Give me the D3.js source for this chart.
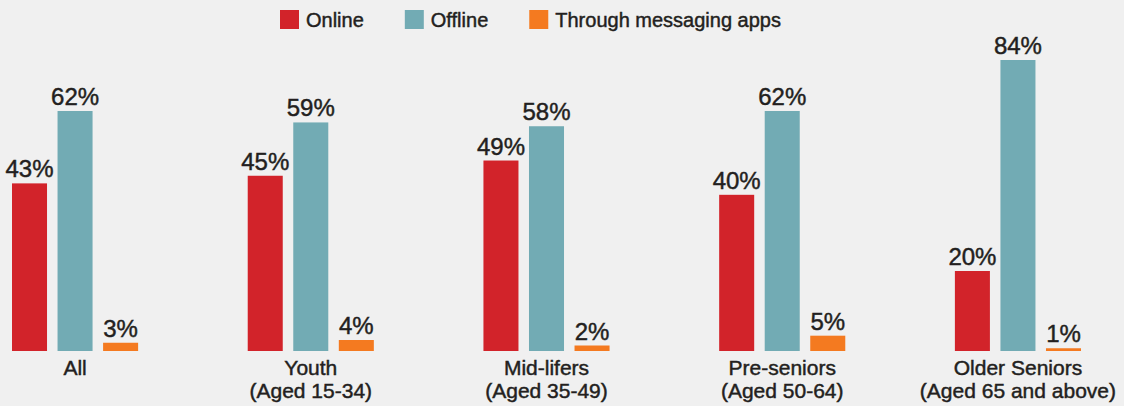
<!DOCTYPE html>
<html>
<head>
<meta charset="utf-8">
<script src="https://cdn.jsdelivr.net/npm/d3@7"></script>
<style>
  html, body { margin: 0; padding: 0; background: #f0f0f0; }
  svg { display: block; font-family: "Liberation Sans", Arial, sans-serif; }
  svg text { stroke: #231f20; stroke-width: 0.45px; }
</style>
</head>
<body>
<div id="wrapper"></div>
<script>
// Data
const categories = ["All", "Youth", "Mid-lifers", "Pre-seniors", "Older Seniors"];
const subLabels = ["", "(Aged 15-34)", "(Aged 35-49)", "(Aged 50-64)", "(Aged 65 and above)"];
const seriesNames = ["Online", "Offline", "Through messaging apps"];
const online = [43, 45, 49, 40, 20];
const offline = [62, 59, 58, 62, 84];
const messaging = [3, 4, 2, 5, 1];

const colors = ["#d2232a", "#72abb4", "#f47a20"];
const textColor = "#231f20";

function drawChart()
{
  const dimensions = {
    width: 1124,
    height: 406,
    baseline: 351
  };

  const svg = d3.select("#wrapper")
    .append("svg")
      .attr("width", dimensions.width)
      .attr("height", dimensions.height);

  svg.append("rect")
    .attr("width", dimensions.width)
    .attr("height", dimensions.height)
    .attr("fill", "#f0f0f0");

  // Scales
  const x0 = d3.scaleBand()
    .domain(categories)
    .range([12, 1081])
    .paddingInner(0.465)
    .paddingOuter(0);

  const x1 = d3.scaleBand()
    .domain(seriesNames)
    .range([0, x0.bandwidth()])
    .paddingInner(0.231)
    .paddingOuter(0);

  // the original's bars are not drawn on a strictly linear axis
  const yScale = d3.scaleLinear()
    .domain([0, 4, 20, 62, 84])
    .range([dimensions.baseline, 340, 271, 111, 60]);

  const series = [online, offline, messaging];

  const groups = svg.append("g")
    .selectAll("g")
    .data(categories)
    .join("g")
      .attr("transform", d => `translate(${x0(d)},0)`);

  groups.each(function(cat, i) {
    const g = d3.select(this);
    seriesNames.forEach((name, s) => {
      const v = series[s][i];
      g.append("rect")
        .attr("x", x1(name))
        .attr("y", yScale(v))
        .attr("width", x1.bandwidth())
        .attr("height", dimensions.baseline - yScale(v))
        .attr("fill", colors[s]);

      g.append("text")
        .attr("x", x1(name) + x1.bandwidth() / 2)
        .attr("y", yScale(v) - 6)
        .attr("text-anchor", "middle")
        .attr("fill", textColor)
        .style("font-size", "24px")
        .text(v + "%");
    });

    const cx = x1(seriesNames[1]) + x1.bandwidth() / 2;
    g.append("text")
      .attr("x", cx)
      .attr("y", 375)
      .attr("text-anchor", "middle")
      .attr("fill", textColor)
      .style("font-size", "21px")
      .text(cat);

    if (subLabels[i]) {
      g.append("text")
        .attr("x", cx)
        .attr("y", 398)
        .attr("text-anchor", "middle")
        .attr("fill", textColor)
        .style("font-size", "21px")
        .text(subLabels[i]);
    }
  });

  // Legend
  const legend = svg.append("g");
  let lx = 280;
  seriesNames.forEach((name, s) => {
    legend.append("rect")
      .attr("x", lx)
      .attr("y", 10)
      .attr("width", 19)
      .attr("height", 19)
      .attr("fill", colors[s]);

    const t = legend.append("text")
      .attr("x", lx + 26)
      .attr("y", 27)
      .attr("fill", textColor)
      .style("font-size", "20px")
      .text(name);

    lx = lx + 26 + t.node().getComputedTextLength() + 41;
  });
}

drawChart();
</script>
</body>
</html>
